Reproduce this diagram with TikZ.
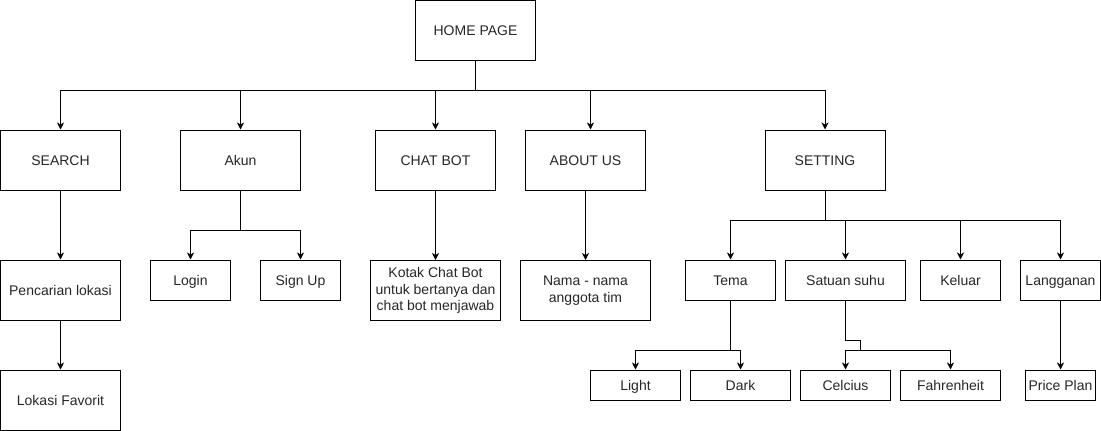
\documentclass[tikz,border=0pt]{standalone}
\usepackage{fontspec}
\setmainfont{Liberation Sans}
\usetikzlibrary{arrows.meta}
\begin{document}
\begin{tikzpicture}[x=1pt,y=-1pt,
  box/.style={draw=black,line width=1pt,inner sep=0pt,align=center,
    font=\fontsize{14}{16.8}\selectfont,text=black!85},
  one/.style={box,text height=11.5pt,text depth=1.5pt},
  arr/.style={line width=1pt,-{Stealth[length=7pt,width=7pt,inset=2pt]}},
  ln/.style={line width=1pt}]
\useasboundingbox (0,0) rectangle (1101,431);
% nodes
\node[one,minimum width=120pt,minimum height=60pt] (home) at (475.5,30) {HOME PAGE};
\node[one,minimum width=120pt,minimum height=60pt] (search) at (60.5,160) {SEARCH};
\node[one,minimum width=120pt,minimum height=60pt] (akun) at (240.5,160) {Akun};
\node[one,minimum width=120pt,minimum height=60pt] (chat) at (435.5,160) {CHAT BOT};
\node[one,minimum width=120pt,minimum height=60pt] (about) at (585.5,160) {ABOUT US};
\node[one,minimum width=120pt,minimum height=60pt] (setting) at (825,160) {SETTING};
\node[one,minimum width=120pt,minimum height=60pt] (pencarian) at (60.5,290) {Pencarian lokasi};
\node[one,minimum width=120pt,minimum height=60pt] (lokasi) at (60.5,400) {Lokasi Favorit};
\node[one,minimum width=80pt,minimum height=40pt] (login) at (190.5,280) {Login};
\node[one,minimum width=80pt,minimum height=40pt] (signup) at (300.5,280) {Sign Up};
\node[box,minimum width=130pt,minimum height=60pt] (kotak) at (435.5,290.5) {Kotak Chat Bot\\untuk bertanya dan\\chat bot menjawab};
\node[box,minimum width=130pt,minimum height=60pt] (nama) at (585.5,290.5) {Nama - nama\\anggota tim};
\node[one,minimum width=90pt,minimum height=40pt] (tema) at (730.5,280) {Tema};
\node[one,minimum width=120pt,minimum height=40pt] (satuan) at (845.5,280) {Satuan suhu};
\node[one,minimum width=80pt,minimum height=40pt] (keluar) at (960.5,280) {Keluar};
\node[one,minimum width=80pt,minimum height=40pt] (langganan) at (1060.5,280) {Langganan};
\node[one,minimum width=90pt,minimum height=30pt] (light) at (635.5,385) {Light};
\node[one,minimum width=100pt,minimum height=30pt] (dark) at (740.5,385) {Dark};
\node[one,minimum width=90pt,minimum height=30pt] (celcius) at (845.5,385) {Celcius};
\node[one,minimum width=100pt,minimum height=30pt] (fahr) at (950.5,385) {Fahrenheit};
\node[one,minimum width=70pt,minimum height=30pt] (price) at (1060.5,385) {Price Plan};
% coordinates
\coordinate (hb) at (475.5,90.5);
\coordinate (sb) at (825,220.5);
\coordinate (ab) at (240.5,230.5);
\coordinate (tb) at (730.5,350.5);
\coordinate (sj) at (860.5,350.5);
% connectors
\draw[arr] (home.south) -- (hb) -| (search.north);
\draw[arr] (hb) -| (akun.north);
\draw[arr] (hb) -| (chat.north);
\draw[arr] (hb) -| ([xshift=5pt]about.north);
\draw[arr] (hb) -| (setting.north);
\draw[arr] (search.south) -- (pencarian.north);
\draw[arr] (pencarian.south) -- (lokasi.north);
\draw[ln] (akun.south) -- (ab);
\draw[arr] (ab) -| (login.north);
\draw[arr] (ab) -| (signup.north);
\draw[arr] (chat.south) -- (kotak.north);
\draw[arr] (about.south) -- (nama.north);
\draw[ln] (setting.south) -- (sb);
\draw[arr] (sb) -| (tema.north);
\draw[arr] (sb) -| (satuan.north);
\draw[arr] (sb) -| (keluar.north);
\draw[arr] (sb) -| (langganan.north);
\draw[ln] (tema.south) -- (tb);
\draw[arr] (tb) -| (light.north);
\draw[arr] (tb) -| (dark.north);
\draw[ln] (satuan.south) -- ++(0,40) -| (sj);
\draw[arr] (sj) -| (celcius.north);
\draw[arr] (sj) -| (fahr.north);
\draw[arr] (langganan.south) -- (price.north);
\end{tikzpicture}
\end{document}
